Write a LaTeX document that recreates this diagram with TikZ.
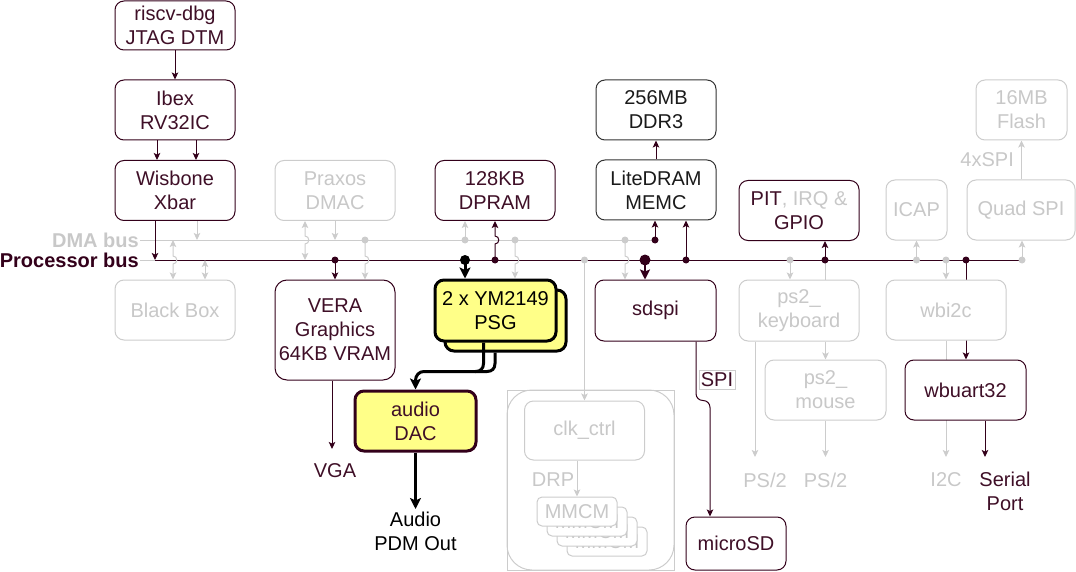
\documentclass[tikz,border=0pt]{standalone}
\usepackage{fontspec}
\setmainfont{Liberation Sans}
\usetikzlibrary{arrows.meta,calc}
\definecolor{mline}{HTML}{33001A}
\definecolor{mtext}{HTML}{3F0F27}
\definecolor{gline}{HTML}{CCCCCC}
\definecolor{gtext}{HTML}{C8C8C8}
\definecolor{kline}{HTML}{333333}
\definecolor{ktext}{HTML}{1A1A1A}
\definecolor{yel}{HTML}{FFFF88}
\newcommand\dfont{\fontsize{20}{24}\selectfont}
\pgfdeclarelayer{bg}
\pgfsetlayers{bg,main}
\begin{document}
\begin{tikzpicture}[x=1pt,y=-1pt,
  box/.style={draw=mline,text=mtext,fill=white,line width=1pt,rounded corners=9pt,align=center,inner sep=0pt,minimum width=120pt,minimum height=60pt,font=\dfont},
  gbox/.style={box,draw=gline,text=gtext},
  kbox/.style={box,draw=kline,text=ktext},
  ybox/.style={box,fill=yel,line width=3pt},
  lbl/.style={inner sep=0pt,align=center,font=\dfont},
  mk/.style={draw=mline,line width=1pt,-{Stealth[length=7pt,width=6.5pt,inset=1.5pt]}},
  gk/.style={draw=gline,line width=1pt,-{Stealth[length=7pt,width=6.5pt,inset=1.5pt]}},
  gkk/.style={draw=gline,line width=1pt,{Stealth[length=7pt,width=6.5pt,inset=1.5pt]}-{Stealth[length=7pt,width=6.5pt,inset=1.5pt]}},
  bk/.style={draw=black,line width=3pt,-{Stealth[length=11pt,width=11pt,inset=2.5pt]}},
  bkl/.style={draw=black,line width=3pt},
]
\useasboundingbox (0,0) rectangle (1076,572);

% ---------- nodes ----------
\node[box,minimum height=49pt] (riscv) at (175,25.5) {riscv-dbg\\JTAG DTM};
\node[box] (ibex) at (175,110) {Ibex\\RV32IC};
\node[box] (xbar) at (175,190.5) {Wisbone\\Xbar};
\node[gbox] (praxos) at (335,190.5) {Praxos\\DMAC};
\node[box] (dpram) at (495,190.5) {128KB\\DPRAM};
\node[kbox] (litedram) at (656,190) {LiteDRAM\\MEMC};
\node[kbox] (ddr3) at (656,110) {256MB\\DDR3};
\node[box] (pit) at (799,210.5) {PIT{\color{gtext}, IRQ \&}\\GPIO};
\node[gbox,minimum width=61pt] (icap) at (916.5,210) {ICAP};
\node[gbox,minimum width=108pt] (quadspi) at (1021,210) {Quad SPI};
\node[gbox,minimum width=91pt] (flash) at (1021.5,110) {16MB\\Flash};

\node[gbox] (blackbox) at (175,310) {Black Box};
\node[box,minimum height=100pt,rounded corners=12pt] (vera) at (335,330) {VERA\\Graphics\\64KB VRAM};
\node[ybox,draw=black,text=black,minimum width=121pt,minimum height=61pt] (psgb) at (505.5,320.5) {};
\node[ybox,draw=black,text=black,minimum width=121pt,minimum height=61pt] (psgf) at (495.5,310.5) {2 x YM2149\\PSG};
\node[box,minimum width=121pt,minimum height=61pt] (sdspi) at (655.5,310.5) {sdspi};
\node[gbox,minimum height=61pt] (ps2kb) at (799,310.5) {ps2\_\\keyboard};
\node[gbox] (wbi2c) at (946,310) {wbi2c};
\node[gbox,minimum width=121pt] (ps2mouse) at (825.5,390) {ps2\_\\mouse};
\node[box,minimum width=121pt] (wbuart) at (965.5,390) {wbuart32};
\node[ybox,draw=mline,text=mtext,minimum width=121pt] (dac) at (415.5,421) {audio\\DAC};

\node[draw=gline,line width=1pt,minimum width=167pt,minimum height=180pt,inner sep=0pt] (clkgrp) at (590.5,480) {};
\node[draw=gline,line width=1pt,rounded corners=25pt,minimum width=167pt,minimum height=180pt,inner sep=0pt] (clkgrpin) at (590.5,480) {};
\node[gbox,minimum height=59pt] (clk) at (584.5,430.5) {clk\_ctrl};
\node[gbox,minimum width=80pt,minimum height=29pt,rounded corners=5pt] (mmcm4) at (607,541.5) {MMCM};
\node[gbox,minimum width=80pt,minimum height=29pt,rounded corners=5pt] (mmcm3) at (597,531.5) {MMCM};
\node[gbox,minimum width=80pt,minimum height=29pt,rounded corners=5pt] (mmcm2) at (587,521.5) {MMCM};
\node[gbox,minimum width=80pt,minimum height=29pt,rounded corners=5pt] (mmcm1) at (577,511.5) {MMCM};
\node[box,minimum width=100pt,minimum height=53pt] (microsd) at (736,543.5) {microSD};

% ---------- labels ----------
\node[lbl,text=gtext,font=\dfont\bfseries,anchor=east] (dmalbl) at (139,240.5) {DMA bus};
\node[lbl,text=mline,font=\dfont\bfseries,anchor=east] (pblbl) at (139,260.5) {Processor bus};
\node[lbl,text=mtext] (vga) at (335,471) {VGA};
\node[lbl,text=black] (audio) at (415.5,531) {Audio\\PDM Out};
\node[draw=gline,fill=white,text=mtext,font=\dfont,inner sep=0pt,minimum width=36pt,minimum height=19pt] (spi) at (717,379.5) {SPI};
\node[lbl,text=gtext] (ps2a) at (765,480) {PS/2};
\node[lbl,text=gtext] (ps2b) at (825.5,480) {PS/2};
\node[lbl,text=gtext] (i2c) at (946,480) {I2C};
\node[lbl,text=mtext] (serial) at (1005,491) {Serial\\Port};
\node[lbl,text=gtext,anchor=east] (qspilbl) at (1014,160) {4xSPI};
\node[lbl,text=gtext] (drp) at (553,480) {DRP};

% ---------- coordinates ----------
\coordinate (dmaL) at (140,240);
\coordinate (pbL) at (140,260);
\coordinate (pbR) at (1022,260);
\coordinate (p155) at (155,260);
\coordinate (d173) at (173,240);
\coordinate (d197) at (197,240);
\coordinate (p205) at (205,260);
\coordinate (p305) at (305,260);
\coordinate (d335) at (335,240);
\coordinate (p335) at (335,260);
\coordinate (d365) at (365,240);
\coordinate (d465) at (465,240);
\coordinate (p465) at (465,260);
\coordinate (p495) at (495,260);
\coordinate (d515) at (515,240);
\coordinate (p585) at (584.5,260);
\coordinate (d625) at (625,240);
\coordinate (p645) at (645,260);
\coordinate (d655) at (655,240);
\coordinate (p686) at (686,260);
\coordinate (p790) at (790,260);
\coordinate (p825) at (825,260);
\coordinate (p916) at (916.5,260);
\coordinate (p946) at (946,260);
\coordinate (p966) at (966,260);
\coordinate (p1022) at (1022,260);
\coordinate (vgaT) at (332,449);
\coordinate (audT) at (415.5,509);
\coordinate (ps2aT) at (755,457);
\coordinate (ps2bT) at (825.5,457);
\coordinate (i2cT) at (946,457);
\coordinate (serT) at (985,457);

\begin{pgfonlayer}{bg}
% buses
\draw[gline,line width=1pt] (dmaL) -- (d655);
\draw[gline,line width=1pt] (pbL) -- (p155);
\draw[mline,line width=1pt] (p155) -- (pbR);

% dark connectors
\draw[mk] (riscv.south) -- (ibex.north);
\draw[mk] ([xshift=-18pt]ibex.south) -- ([xshift=-18pt]xbar.north);
\draw[mk] ([xshift=21pt]ibex.south) -- ([xshift=21pt]xbar.north);
\draw[mk] (xbar.south -| p155) -- (p155);
\draw[mk] (p335) -- (vera.north -| p335);
\draw[mk] (p495) -- ++(0,-16) .. controls +(5,0) and +(5,0) .. ++(0,-8) -- (dpram.south -| p495);
\draw[mk] (d655) -- (litedram.south -| d655);
\draw[mk] (p686) -- (litedram.south -| p686);
\draw[mk] (litedram.north) -- (ddr3.south);
\draw[mk] (p825) -- (pit.south -| p825);
\draw[mk] (p966) -- (wbuart.north -| p966);
\draw[mk] (vera.south -| vgaT) -- (vgaT);
\draw[mk] (wbuart.south -| serT) -- (serT);
\draw[mk] ([xshift=40.5pt]sdspi.south) -- ++(0,52) .. controls +(0,4) and +(-4,0) .. ++(7,7) .. controls +(4,0) and +(0,-4) .. ++(7,7) -- ([xshift=-26pt]microsd.north);
\draw[draw=mline,line width=2pt,-{Stealth[length=10pt,width=10pt,inset=2pt]}] (p645) -- (sdspi.north -| p645);
\draw[bk] (p465) -- (psgf.north -| p465);
\draw[bk] (dac.south) -- (audT);

% gray connectors
\draw[gk] ([xshift=22pt]xbar.south) -- (d197);
\draw[gkk] (d173) -- ++(0,16) .. controls +(5,0) and +(5,0) .. ++(0,8) -- (blackbox.north -| d173);
\draw[gkk] (p205) -- (blackbox.north -| p205);
\draw[gkk] (praxos.south -| p305) -- ++(0,15) .. controls +(5,0) and +(5,0) .. ++(0,8) -- (p305);
\draw[gk] (praxos.south -| d335) -- (d335);
\draw[gk] (d365) -- ++(0,16) .. controls +(5,0) and +(5,0) .. ++(0,8) -- (vera.north -| d365);
\draw[gk] (d465) -- (dpram.south -| d465);
\draw[gk] (d515) -- ++(0,16) .. controls +(5,0) and +(5,0) .. ++(0,8) -- (psgf.north -| d515);
\draw[gk] (p585) -- (clk.north);
\draw[gk] (d625) -- ++(0,16) .. controls +(5,0) and +(5,0) .. ++(0,8) -- (sdspi.north -| d625);
\draw[gk] (p790) -- (ps2kb.north -| p790);
\draw[gline,line width=1pt] (p825) -- (ps2kb.north -| p825);
\draw[gk] (ps2mouse.north |- ps2kb.south) -- (ps2mouse.north);
\draw[gk] (ps2kb.south -| ps2aT) -- (ps2aT);
\draw[gk] (ps2mouse.south) -- (ps2bT);
\draw[gk] (p916) -- (icap.south);
\draw[gk] (p946) -- (wbi2c.north);
\draw[gk] (wbi2c.south) -- (i2cT);
\draw[gk] (p1022) -- (quadspi.south -| p1022);
\draw[gk] (flash.south |- quadspi.north) -- (flash.south);
\draw[gk] (mmcm1.north |- clk.south) -- (mmcm1.north);

% dots
\fill[gline] (d365) circle[radius=3.5];
\fill[gline] (d465) circle[radius=3.5];
\fill[gline] (d515) circle[radius=3.5];
\fill[gline] (d625) circle[radius=3.5];
\fill[gline] (p585) circle[radius=3.5];
\fill[gline] (p790) circle[radius=3.5];
\fill[gline] (p916) circle[radius=3.5];
\fill[gline] (p946) circle[radius=3.5];
\fill[gline] (p1022) circle[radius=3.5];
\fill[mline] (p335) circle[radius=3.5];
\fill[mline] (p495) circle[radius=3.5];
\fill[mline] (d655) circle[radius=3.5];
\fill[mline] (p686) circle[radius=3.5];
\fill[mline] (p825) circle[radius=3.5];
\fill[mline] (p966) circle[radius=3.5];
\fill[mline] (p645) circle[radius=5.5];
\fill[black] (p465) circle[radius=5];
\end{pgfonlayer}

% PSG -> DAC (on top of the stacked PSG boxes)
\draw[bk] ([xshift=-12pt]psgf.south) -- ++(0,21) .. controls +(0,5) and +(5,0) .. ++(-8,8) -- ++(-51.5,0) .. controls +(-5,0) and +(0,-5) .. ++(-8.5,9) -- (dac.north);
\draw[bkl] ([xshift=-10.5pt]psgb.south) -- ++(0,11) .. controls +(0,5) and +(5,0) .. ++(-8,8) -- ++(-12,0);
\end{tikzpicture}
\end{document}
